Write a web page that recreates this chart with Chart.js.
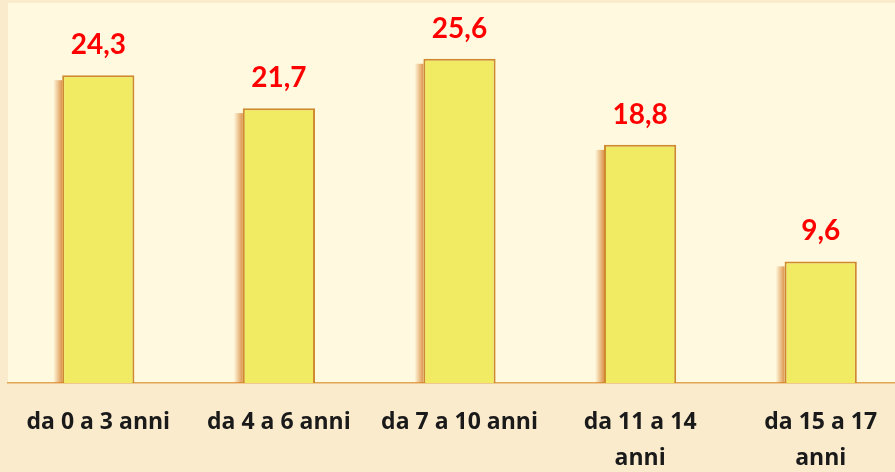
<!DOCTYPE html>
<html>
<head>
<meta charset="utf-8">
<script src="https://cdn.jsdelivr.net/npm/chart.js@4/dist/chart.umd.min.js"></script>
<style>
  html, body { margin: 0; padding: 0; background: #faebcd; overflow: hidden; }
  #wrap { width: 895px; height: 472px; overflow: hidden; }
</style>
</head>
<body>
<div id="wrap">
  <canvas id="myChart" width="911" height="472"></canvas>
</div>
<script>
const categories = [
  "da 0 a 3 anni",
  "da 4 a 6 anni",
  "da 7 a 10 anni",
  ["da 11 a 14", "anni"],
  ["da 15 a 17", "anni"],
];
const values = [24.3, 21.7, 25.6, 18.8, 9.6];

// plot area background + bar shadow + value labels
const decorations = {
  id: "decorations",
  beforeDraw(chart) {
    const { ctx, chartArea } = chart;
    ctx.save();
    ctx.fillStyle = "#fffadf";
    ctx.fillRect(chartArea.left, chartArea.top, chartArea.right - chartArea.left, chartArea.bottom - chartArea.top);
    ctx.restore();
  },
  beforeDatasetsDraw(chart) {
    const ctx = chart.ctx;
    const meta = chart.getDatasetMeta(0);
    ctx.save();
    meta.data.forEach((bar) => {
      const left = bar.x - bar.width / 2;
      const g = ctx.createLinearGradient(left - 9, 0, left, 0);
      g.addColorStop(0, "rgba(215, 130, 50, 0)");
      g.addColorStop(1, "rgba(215, 130, 50, 0.85)");
      ctx.fillStyle = g;
      ctx.fillRect(left - 9, bar.y + 5, 9, bar.base - bar.y - 5);
    });
    ctx.restore();
  },
  afterDatasetsDraw(chart) {
    const ctx = chart.ctx;
    const meta = chart.getDatasetMeta(0);
    ctx.save();
    ctx.fillStyle = "#ff0000";
    ctx.font = "bold 28px Lato";
    ctx.textAlign = "center";
    ctx.textBaseline = "alphabetic";
    meta.data.forEach((bar, i) => {
      const txt = values[i].toFixed(1).replace(".", ",");
      ctx.fillText(txt, bar.x, bar.y - 21);
    });
    ctx.restore();
  },
};

const ctx = document.getElementById("myChart");
new Chart(ctx, {
  type: "bar",
  data: {
    labels: categories,
    datasets: [
      {
        data: values,
        backgroundColor: "#f1eb64",
        borderColor: "#cf8a30",
        borderWidth: 2,
        categoryPercentage: 1,
        barPercentage: 0.4,
      },
    ],
  },
  options: {
    responsive: false,
    animation: false,
    layout: { padding: { top: 3, left: 8, right: 0, bottom: 0 } },
    plugins: { legend: { display: false }, tooltip: { enabled: false } },
    scales: {
      y: { display: false, min: 0, max: 30 },
      x: {
        grid: { display: false, drawTicks: false },
        border: { display: true, color: "#e3a455", width: 1.5 },
        ticks: {
          color: "#1a1a1a",
          padding: 22,
          maxRotation: 0,
          autoSkip: false,
          font: { family: "Open Sans", size: 23, weight: "bold", lineHeight: 1.55 },
        },
        afterFit(scale) {
          scale.height = 89;
        },
      },
    },
  },
  plugins: [decorations],
});
</script>
</body>
</html>
